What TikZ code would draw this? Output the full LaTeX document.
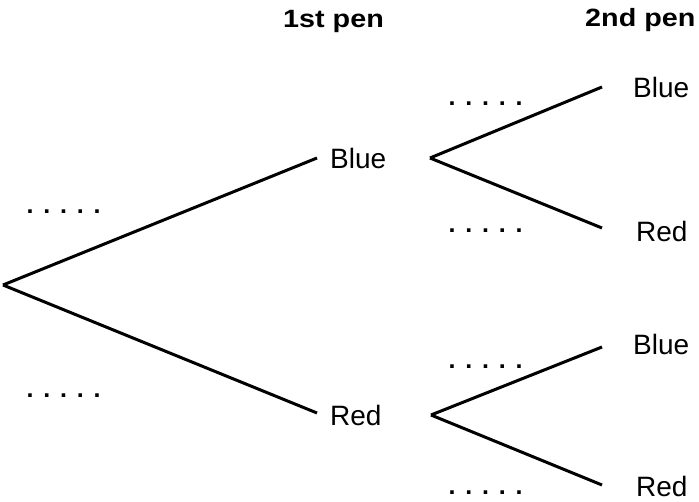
\documentclass[tikz,border=0pt]{standalone}
\usepackage{fontspec}
\setmainfont{Liberation Sans}
\newfontfamily\hdfont{Liberation Sans}[UprightFont={* Bold}, FakeStretch=1.15]
\newfontfamily\dotfont{Liberation Sans}[UprightFont={* Bold}]
\newcommand\fivedots{.\hspace{9.8pt}.\hspace{9.8pt}.\hspace{9.8pt}.\hspace{9.8pt}.}
\begin{document}
\begin{tikzpicture}[x=1pt,y=-1pt,
  branch/.style={line width=3pt},
  lab/.style={inner sep=0pt, anchor=base west, font=\fontsize{28}{30}\selectfont},
  head/.style={inner sep=0pt, anchor=base west, font=\hdfont\fontsize{25}{28}\selectfont},
  dots/.style={inner sep=0pt, anchor=base west, font=\dotfont\fontsize{25}{28}\selectfont}]
\useasboundingbox (0,0) rectangle (699,502);
% headers
\node[head] (h1) at (283,28) {1st pen};
\node[head] (h2) at (585,27) {2nd pen};
% branch points
\coordinate (root) at (3,285);
\coordinate (b1end) at (317,158);
\coordinate (r1end) at (317,413);
\coordinate (b1start) at (430,158);
\coordinate (r1start) at (431,415);
\coordinate (bbend) at (602,87);
\coordinate (brend) at (602,228);
\coordinate (rbend) at (602,347);
\coordinate (rrend) at (602,485);
% labels
\node[lab] (B1) at (330,169) {Blue};
\node[lab] (R1) at (330,426) {Red};
\node[lab] (BB) at (633,98) {Blue};
\node[lab] (BR) at (636,242) {Red};
\node[lab] (RB) at (633,355) {Blue};
\node[lab] (RR) at (636,496) {Red};
% branches
\draw[branch] (root) -- (b1end);
\draw[branch] (root) -- (r1end);
\draw[branch] (b1start) -- (bbend);
\draw[branch] (b1start) -- (brend);
\draw[branch] (r1start) -- (rbend);
\draw[branch] (r1start) -- (rrend);
% probability blanks
\node[dots] (d1) at (26.5,214) {\fivedots};
\node[dots] (d2) at (26.5,398) {\fivedots};
\node[dots] (d3) at (448.5,106) {\fivedots};
\node[dots] (d4) at (448.5,233) {\fivedots};
\node[dots] (d5) at (448.5,369) {\fivedots};
\node[dots] (d6) at (448.5,494) {\fivedots};
\end{tikzpicture}
\end{document}
